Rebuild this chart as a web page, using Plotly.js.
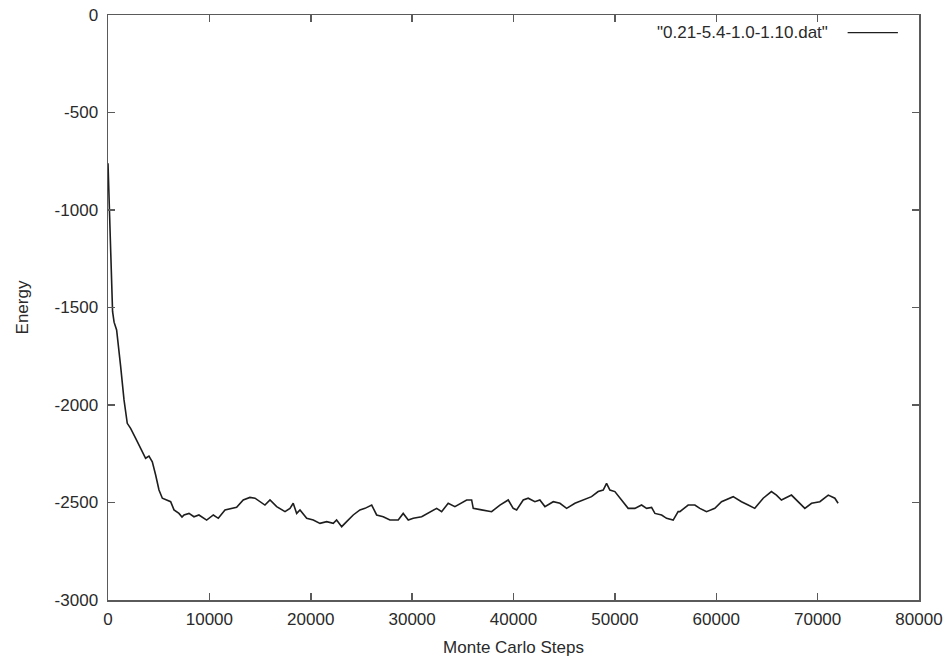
<!DOCTYPE html>
<html>
<head>
<meta charset="utf-8">
<script src="https://cdn.plot.ly/plotly-3.0.1.min.js"></script>
<style>html,body{margin:0;padding:0;background:#fff;}#chart{width:950px;height:657px;}</style>
</head>
<body>
<div id="chart"></div>
<script>
// Monte Carlo steps (x) and energy (y)
const steps = [0,150,300,450,600,850,1250,1580,1900,2230,2730,3220,3710,4040,4370,4700,5030,5360,5850,6180,6510,7000,7300,7500,7990,8480,8970,9470,9730,10390,10880,11540,12200,12690,13340,14000,14500,14990,15480,15980,16640,17460,17950,18270,18610,18940,19600,20250,20910,21570,22220,22550,23050,23540,24190,24850,25350,26010,26500,27150,27810,28630,29120,29620,30110,30940,31760,32420,32910,33560,34220,34880,35380,35870,36030,36850,37840,38660,39480,39970,40310,40960,41450,42110,42600,43100,43920,44580,45240,46060,46870,47700,48350,48850,49180,49510,50000,50660,51310,51970,52630,53130,53620,53950,54610,55100,55750,56240,56410,57230,57890,58380,59040,59860,60520,61670,62160,62490,63150,63800,64630,65440,65940,66430,67420,68080,68740,69400,70220,71050,71700,72020];
const energy = [-760,-1050,-1330,-1520,-1575,-1615,-1803,-1974,-2094,-2120,-2171,-2222,-2273,-2262,-2291,-2359,-2436,-2478,-2487,-2496,-2538,-2556,-2575,-2564,-2556,-2573,-2564,-2581,-2590,-2564,-2581,-2538,-2530,-2525,-2487,-2474,-2478,-2496,-2513,-2487,-2521,-2547,-2530,-2504,-2556,-2538,-2581,-2590,-2607,-2598,-2607,-2590,-2624,-2598,-2564,-2538,-2530,-2513,-2564,-2573,-2590,-2590,-2556,-2590,-2581,-2573,-2547,-2530,-2547,-2504,-2521,-2504,-2487,-2487,-2530,-2538,-2547,-2513,-2487,-2530,-2538,-2487,-2478,-2496,-2487,-2521,-2496,-2504,-2530,-2504,-2487,-2470,-2444,-2436,-2402,-2436,-2444,-2487,-2530,-2530,-2513,-2530,-2525,-2556,-2564,-2581,-2590,-2547,-2547,-2513,-2513,-2530,-2547,-2530,-2496,-2470,-2487,-2496,-2513,-2530,-2478,-2444,-2462,-2487,-2462,-2496,-2530,-2504,-2496,-2462,-2478,-2504];
const seriesName = '"0.21-5.4-1.0-1.10.dat"';
const xTickVals = [0,10000,20000,30000,40000,50000,60000,70000,80000];
const xTickText = ['0','10000','20000','30000','40000','50000','60000','70000','80000'];
const yTickVals = [0,-500,-1000,-1500,-2000,-2500,-3000];
const yTickText = ['0','-500','-1000','-1500','-2000','-2500','-3000'];

const font = {family: 'Liberation Sans, Arial, sans-serif', size: 17, color: '#2a2a2a'};
const axisCommon = {
  showline: true, linecolor: '#5a5a5a', linewidth: 1.5, mirror: 'ticks',
  ticks: 'inside', ticklen: 7, tickwidth: 1.5, tickcolor: '#5a5a5a',
  showgrid: false, zeroline: false, tickmode: 'array', tickfont: font
};

const trace = {
  x: steps, y: energy, type: 'scatter', mode: 'lines',
  name: seriesName, line: {color: '#1e1e1e', width: 1.6}, showlegend: false
};

const layout = {
  width: 950, height: 657,
  margin: {l: 108, r: 31, t: 15, b: 57, pad: 0},
  paper_bgcolor: '#ffffff', plot_bgcolor: '#ffffff',
  font: font,
  xaxis: Object.assign({}, axisCommon, {
    range: [0, 80000], tickvals: xTickVals, ticktext: xTickText, ticklabelstandoff: 3,
    title: {text: 'Monte Carlo Steps', font: font, standoff: 14}, automargin: false
  }),
  yaxis: Object.assign({}, axisCommon, {
    range: [-3000, 0], tickvals: yTickVals, ticktext: yTickText, ticklabelstandoff: 5,
    title: {text: 'Energy', font: font, standoff: 21}, automargin: false
  }),
  annotations: [{
    xref: 'paper', yref: 'paper', x: 0.89, y: 0.97, xanchor: 'right', yanchor: 'middle',
    text: seriesName, showarrow: false, font: font
  }],
  shapes: [{
    type: 'line', xref: 'paper', yref: 'paper', x0: 0.912, x1: 0.974, y0: 0.97, y1: 0.97,
    line: {color: '#1e1e1e', width: 1.2}
  }]
};

Plotly.newPlot('chart', [trace], layout, {displayModeBar: false, staticPlot: true});
</script>
</body>
</html>
